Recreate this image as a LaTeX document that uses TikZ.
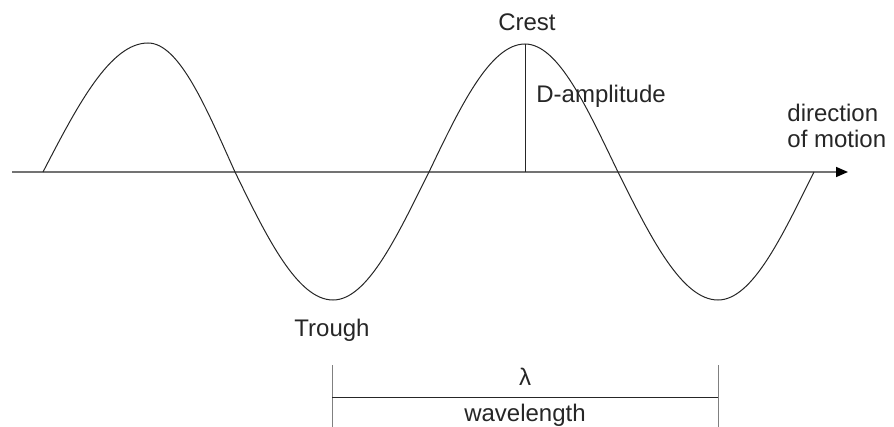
\documentclass[tikz,border=0pt]{standalone}
\usepackage{fontspec}
\setmainfont{Liberation Sans}
\usetikzlibrary{arrows.meta,positioning}

\begin{document}
\begin{tikzpicture}[
  x=0.5pt, y=-0.5pt,
  >={Triangle[length=6pt,width=5pt,color=black]},
  axis/.style={->,draw=black!55,line width=0.8pt},
  wave/.style={draw=black!85,line width=0.5pt},
  guide/.style={draw=black!50,line width=0.5pt},
  caption/.style={font=\fontsize{12}{13}\selectfont,inner sep=0pt,text=black!85}
]
  \useasboundingbox (0,0) rectangle (894,427);

  % axis of propagation
  \coordinate (axisstart) at (12,172);
  \coordinate (axistip) at (848,172);
  \draw[axis] (axisstart) -- (axistip);

  % the wave, one cubic per quarter
  \coordinate (zero0) at (43,172);
  \coordinate (crest1) at (148,43);
  \coordinate (zero1) at (235,172);
  \coordinate (trough1) at (333,300);
  \coordinate (zero2) at (429,172);
  \coordinate (crest2) at (525,44);
  \coordinate (zero3) at (618,172);
  \coordinate (trough2) at (718,300);
  \coordinate (zero4) at (814,172);
  \draw[wave] (zero0)
    .. controls (77.2,106) and (110,43) .. (crest1)
    .. controls (179.5,43) and (206.6,109) .. (zero1)
    .. controls (266.9,237.5) and (297.5,300) .. (trough1)
    .. controls (367.8,300) and (397.7,234.5) .. (zero2)
    .. controls (460.3,106.5) and (490.2,44) .. (crest2)
    .. controls (558.7,44) and (587.7,109.5) .. (zero3)
    .. controls (650.6,237.5) and (681.8,300) .. (trough2)
    .. controls (752.8,300) and (782.7,234.5) .. (zero4);

  % amplitude
  \coordinate (ampbase) at (525,172);
  \draw[wave] (crest2) -- (ampbase);

  % labels
  \node[caption] (crest) at (527,22) {Crest};
  \node[caption,anchor=west] (amplitude) at (536,96) {D-amplitude};
  \node[caption,anchor=west,align=left] (motion) at (787,126) {direction\\of motion};
  \node[caption] (trough) at (332,330) {Trough};

  % wavelength bracket
  \coordinate (brleft) at (332,365);
  \coordinate (brleftend) at (332,427);
  \coordinate (brright) at (718,365);
  \coordinate (brrightend) at (718,427);
  \coordinate (barleft) at (332,397);
  \coordinate (barright) at (718,397);
  \draw[guide] (brleft) -- (brleftend);
  \draw[guide] (brright) -- (brrightend);
  \draw[wave] (barleft) -- (barright);
  \node[caption] (lambda) at (525,377) {λ};
  \node[caption] (wavelen) at (525,415) {wavelength};
\end{tikzpicture}
\end{document}
